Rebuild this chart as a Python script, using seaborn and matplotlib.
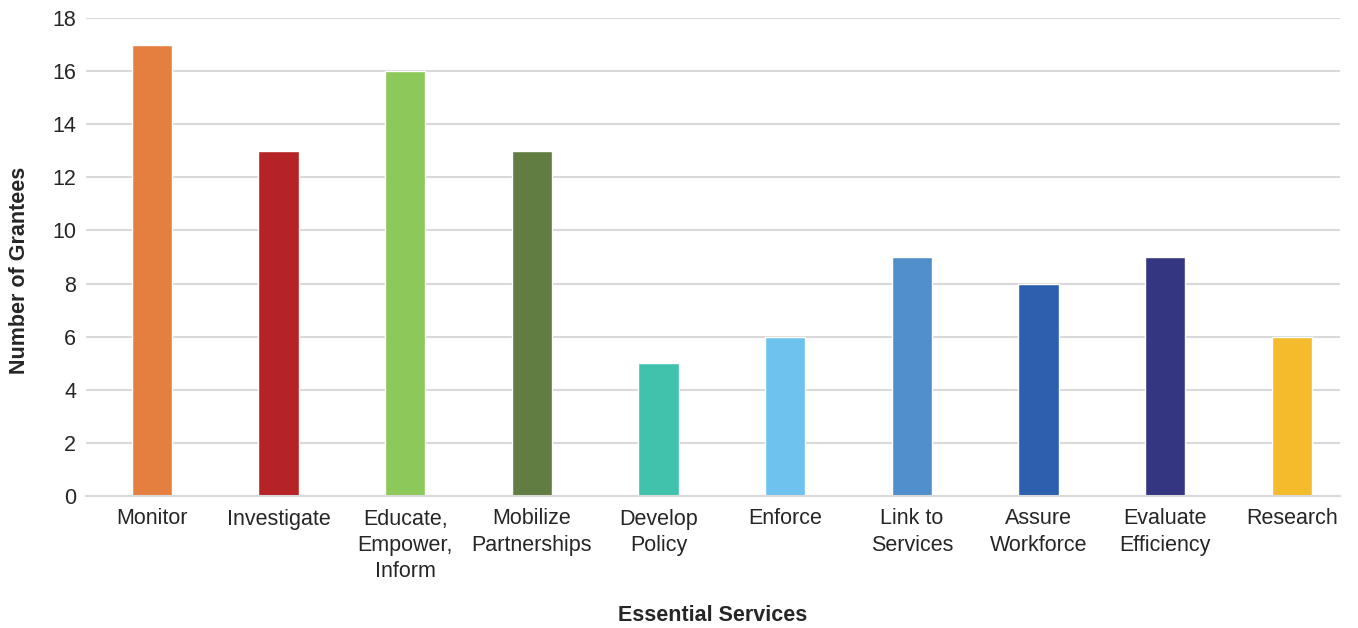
import matplotlib
matplotlib.use("Agg")
import matplotlib.pyplot as plt
import seaborn as sns
import pandas as pd

categories = ["Monitor", "Investigate", "Educate,\nEmpower,\nInform", "Mobilize\nPartnerships",
              "Develop\nPolicy", "Enforce", "Link to\nServices", "Assure\nWorkforce",
              "Evaluate\nEfficiency", "Research"]
values = [17, 13, 16, 13, 5, 6, 9, 8, 9, 6]
colors = ["#E57F3F", "#B52326", "#8DC85A", "#627D41", "#41C2AC", "#6EC2EE",
          "#518ECC", "#2D5FAF", "#343681", "#F4BC2D"]
yticks = [0, 2, 4, 6, 8, 10, 12, 14, 16, 18]

sns.set_theme(style="white")
plt.rcParams['font.family'] = ['Liberation Sans', 'DejaVu Sans']

df = pd.DataFrame({"cat": categories, "val": values})

fig = plt.figure(figsize=(13.58, 6.28), dpi=100)
ax = fig.add_axes([86/1358, 1-496/628, (1340-86)/1358, (496-18)/628])

sns.barplot(data=df, x="cat", y="val", hue="cat", palette=colors, legend=False,
            width=0.32, saturation=1, ax=ax)

ax.set_xlim(-0.52, 9.38)
ax.set_ylim(0, 18)
ax.set_yticks(yticks)
ax.yaxis.grid(True, color="#d9d9d9", linewidth=1.5)
ax.set_axisbelow(True)
for s in ["top", "right", "left"]:
    ax.spines[s].set_visible(False)
ax.spines["bottom"].set_color("#d9d9d9")
ax.spines["bottom"].set_linewidth(1.5)
ax.tick_params(axis="both", length=0, labelsize=15.5, labelcolor="#262626")
ax.tick_params(axis="x", pad=9)
ax.tick_params(axis="y", pad=7)
for lbl in ax.get_xticklabels():
    lbl.set_linespacing(1.33)

ax.set_xlabel("Essential Services", fontsize=15.5, fontweight="bold", color="#262626")
ax.set_ylabel("Number of Grantees", fontsize=15.5, fontweight="bold", color="#262626")
ax.xaxis.set_label_coords(0.5, -0.229)
ax.yaxis.set_label_coords(-0.045, 0.473)

fig.savefig("out.png", dpi=100)
